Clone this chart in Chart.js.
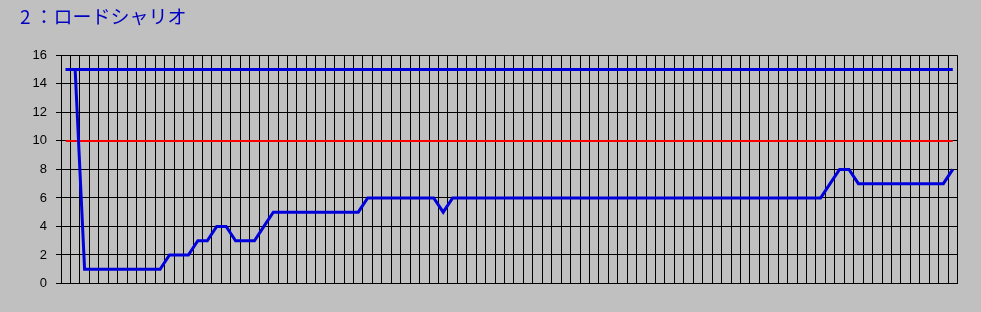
<!DOCTYPE html>
<html lang="ja">
<head>
<meta charset="utf-8">
<script src="https://cdn.jsdelivr.net/npm/chart.js@4.4.0/dist/chart.umd.min.js"></script>
<style>
  html, body { margin: 0; padding: 0; background: #c0c0c0; }
  #wrap { position: relative; width: 981px; height: 312px; }
  #title {
    position: absolute;
    left: 20px;
    top: 4px;
    font-family: "Noto Sans CJK JP", sans-serif;
    font-size: 19px;
    line-height: 24px;
    color: #0000c0;
    white-space: nowrap;
  }
  /* the fullwidth colon sits at the left of its box in this font; centre it */
  #title .sep {
    display: inline-block;
    width: 1em;
    position: relative;
    left: 4px;
  }
  #title .name {
    margin-left: 4px;
  }
</style>
</head>
<body>
<div id="wrap">
  <canvas id="chart" width="981" height="312"></canvas>
  <div id="title" lang="ja"><span id="tNum"></span><span class="sep" id="tSep"></span><span class="name" id="tName"></span></div>
</div>
<script>
  const TITLE_NUM = "2";
  const TITLE_SEP = "：";
  const TITLE_NAME = "ロードシャリオ";

  // one category per column of the grid, no labels shown
  const races = [
    1, 2, 3, 4, 5, 6, 7, 8, 9, 10, 11, 12, 13, 14, 15, 16, 17, 18, 19, 20,
    21, 22, 23, 24, 25, 26, 27, 28, 29, 30, 31, 32, 33, 34, 35, 36, 37, 38, 39, 40,
    41, 42, 43, 44, 45, 46, 47, 48, 49, 50, 51, 52, 53, 54, 55, 56, 57, 58, 59, 60,
    61, 62, 63, 64, 65, 66, 67, 68, 69, 70, 71, 72, 73, 74, 75, 76, 77, 78, 79, 80,
    81, 82, 83, 84, 85, 86, 87, 88, 89, 90, 91, 92, 93, 94, 95
  ];

  const ranking = [
    15, 15, 1, 1, 1, 1, 1, 1, 1, 1,
    1, 2, 2, 2, 3, 3, 4, 4, 3, 3,
    3, 4, 5, 5, 5, 5, 5, 5, 5, 5,
    5, 5, 6, 6, 6, 6, 6, 6, 6, 6,
    5, 6, 6, 6, 6, 6, 6, 6, 6, 6,
    6, 6, 6, 6, 6, 6, 6, 6, 6, 6,
    6, 6, 6, 6, 6, 6, 6, 6, 6, 6,
    6, 6, 6, 6, 6, 6, 6, 6, 6, 6,
    6, 7, 8, 8, 7, 7, 7, 7, 7, 7,
    7, 7, 7, 7, 8
  ];

  const UPPER_LINE = 15;
  const RED_LINE = 10;

  const yTicks = [0, 2, 4, 6, 8, 10, 12, 14, 16];

  const BLUE = "#0000dc";

  document.getElementById("tNum").textContent = TITLE_NUM;
  document.getElementById("tSep").textContent = TITLE_SEP;
  document.getElementById("tName").textContent = TITLE_NAME;

  function flatLine(v) {
    return [
      { x: String(races[0]), y: v },
      { x: String(races[races.length - 1]), y: v }
    ];
  }

  const ctx = document.getElementById("chart").getContext("2d");

  new Chart(ctx, {
    type: "line",
    data: {
      labels: races.map(String),
      datasets: [
        {
          label: "順位",
          data: ranking,
          borderColor: BLUE,
          borderWidth: 3,
          pointRadius: 0,
          tension: 0
        },
        {
          label: "上限",
          data: flatLine(UPPER_LINE),
          borderColor: BLUE,
          borderWidth: 3,
          pointRadius: 0,
          tension: 0
        },
        {
          label: "基準",
          data: flatLine(RED_LINE),
          borderColor: "#ff0000",
          borderWidth: 2,
          pointRadius: 0,
          tension: 0
        }
      ]
    },
    options: {
      responsive: false,
      animation: false,
      devicePixelRatio: 1,
      layout: {
        padding: { left: 20, right: 23.5, top: 55.3, bottom: 28.5 }
      },
      plugins: {
        legend: { display: false },
        tooltip: { enabled: false }
      },
      scales: {
        x: {
          type: "category",
          offset: true,
          grid: {
            offset: true,
            color: "#000",
            lineWidth: 1,
            drawTicks: false
          },
          border: { color: "#000", width: 1 },
          ticks: { display: false }
        },
        y: {
          min: 0,
          max: 16,
          afterBuildTicks: scale => {
            scale.ticks = yTicks.map(v => ({ value: v }));
          },
          afterFit: scale => {
            scale.width = 41;
          },
          grid: {
            color: "#000",
            lineWidth: 1,
            tickLength: 5
          },
          border: { color: "#000", width: 1 },
          ticks: {
            color: "#000",
            padding: 9,
            font: { family: "'Liberation Sans', Arial, sans-serif", size: 13 }
          }
        }
      }
    }
  });
</script>
</body>
</html>
